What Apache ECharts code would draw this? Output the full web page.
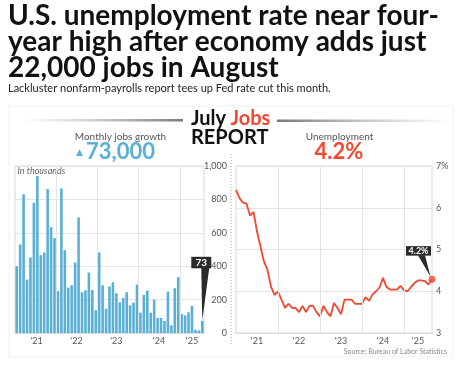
<!DOCTYPE html>
<html><head><meta charset="utf-8">
<script src="https://cdn.jsdelivr.net/npm/echarts@6/dist/echarts.min.js"></script>
<style>html,body{margin:0;padding:0;background:#fff}#c{width:457px;height:369px}</style>
</head><body><div id="c"></div>
<script>
// ---- data ----
const jobsGrowth = [400, 530, 830, 320, 452, 780, 940, 466, 482, 862, 634, 568, 252, 866, 496, 272, 286, 422, 692, 244, 256, 362, 258, 136, 482, 286, 146, 278, 304, 238, 184, 210, 244, 166, 182, 290, 122, 228, 254, 122, 200, 90, 90, 72, 248, 46, 268, 334, 114, 106, 124, 162, 20, 16, 73];
const unemployment = [6.43, 6.23, 6.12, 6.1, 5.81, 5.9, 5.43, 5.07, 4.71, 4.51, 4.11, 3.91, 3.99, 3.8, 3.6, 3.7, 3.6, 3.6, 3.5, 3.65, 3.5, 3.65, 3.65, 3.5, 3.4, 3.65, 3.5, 3.4, 3.72, 3.6, 3.45, 3.8, 3.8, 3.8, 3.7, 3.7, 3.7, 3.86, 3.77, 3.92, 4.0, 4.09, 4.32, 4.1, 4.04, 4.04, 4.04, 4.13, 4.02, 4.0, 4.1, 4.2, 4.26, 4.26, 4.24, 4.16, 4.29];
const yearLabels = ["'21", "'22", "'23", "'24", "'25"];
const jobsLabelAt = [5.8, 17.4, 29, 41.4, 51];       // bar index where each year label sits
const jobsYearStarts = [12, 24, 36, 48];             // bar index of each January
const rateLabelAt = [6, 18, 30, 42, 52];
const rateYearStarts = [12, 24, 36, 48];
const jobsTicks = [0, 200, 400, 600, 800, 1000];
const rateTicks = [3, 4, 5, 6, 7];
const headline = ["U.S. unemployment rate near four-", "year high after economy adds just", "22,000 jobs in August"];
const subhead = "Lackluster nonfarm-payrolls report tees up Fed rate cut this month.";
const jobsHeadline = "73,000";
const rateHeadline = "4.2%";
const jobsCallout = "73";
const rateCallout = "4.2%";

// ---- chart ----
const BLUE = '#5aafd5', RED = '#f4472f', GRID = '#e4e4e4', LBL = '#555';
const FONT = 'Lato, "Noto Sans", sans-serif';
const chart = echarts.init(document.getElementById('c'), null, {renderer: 'canvas'});
const lastJ = jobsGrowth.length - 1, lastU = unemployment.length - 1;

const option = {
  animation: false,
  textStyle: {fontFamily: FONT},
  title: [
    {text: headline.join('\n'), left: 8, top: 3, padding: 0,
     textStyle: {fontSize: 28, fontWeight: 'bold', lineHeight: 26, color: '#111', fontFamily: FONT}},
    {text: subhead, left: 8, top: 83, padding: 0,
     textStyle: {fontSize: 11, fontWeight: 'normal', color: '#222', fontFamily: FONT}},
    {text: '{a|July} {b|Jobs}\n{a|REPORT}', left: 191, top: 109, padding: 0,
     textStyle: {rich: {
       a: {fontSize: 20, fontWeight: 'bold', color: '#111', fontFamily: FONT, lineHeight: 19},
       b: {fontSize: 20, fontWeight: 'bold', color: RED, fontFamily: FONT, lineHeight: 19}}}}
  ],
  grid: [
    {left: 15, top: 166, width: 189, height: 167, show: true, borderColor: '#d8d8d8', borderWidth: 1, containLabel: false},
    {left: 236, top: 166, width: 196, height: 167, show: true, borderColor: '#d8d8d8', borderWidth: 1, containLabel: false}
  ],
  xAxis: [
    {type: 'value', gridIndex: 0, min: -0.5, max: jobsGrowth.length - 0.5,
     axisLine: {show: true, lineStyle: {color: '#ddd'}}, axisTick: {show: false}, splitLine: {show: false},
     axisLabel: {customValues: jobsLabelAt, margin: 4, fontSize: 9, color: LBL, fontFamily: FONT,
       formatter: v => yearLabels[jobsLabelAt.indexOf(v)] || ''}},
    {type: 'value', gridIndex: 1, min: 0, max: unemployment.length - 1,
     axisLine: {show: true, lineStyle: {color: '#ddd'}}, axisTick: {show: false}, splitLine: {show: false},
     axisLabel: {customValues: rateLabelAt, margin: 4, fontSize: 9, color: LBL, fontFamily: FONT,
       formatter: v => yearLabels[rateLabelAt.indexOf(v)] || ''}}
  ],
  yAxis: [
    {type: 'value', gridIndex: 0, position: 'right', min: jobsTicks[0], max: jobsTicks[jobsTicks.length - 1], interval: 200,
     axisLine: {show: false}, axisTick: {show: false},
     splitLine: {lineStyle: {color: GRID}},
     axisLabel: {align: 'right', margin: 23, fontSize: 9, color: LBL, fontFamily: FONT,
       formatter: v => v.toLocaleString('en-US')}},
    {type: 'value', gridIndex: 1, position: 'right', min: rateTicks[0], max: rateTicks[rateTicks.length - 1], interval: 1,
     axisLine: {show: false}, axisTick: {show: false},
     splitLine: {lineStyle: {color: GRID}},
     axisLabel: {align: 'left', margin: 4, fontSize: 9, color: LBL, fontFamily: FONT,
       formatter: v => v === rateTicks[rateTicks.length - 1] ? v + '%' : String(v)}}
  ],
  series: [
    {type: 'bar', xAxisIndex: 0, yAxisIndex: 0, barWidth: 2.6,
     data: jobsGrowth.map((v, i) => [i, v]), itemStyle: {color: BLUE}, silent: true,
     markLine: {silent: true, symbol: 'none', label: {show: false},
       lineStyle: {color: GRID, type: 'solid', width: 1},
       data: jobsYearStarts.map(i => ({xAxis: i - 0.5}))}},
    {type: 'line', xAxisIndex: 1, yAxisIndex: 1, showSymbol: false, silent: true,
     data: unemployment.map((v, i) => [i, v]), lineStyle: {color: RED, width: 1.8}, itemStyle: {color: RED},
     markLine: {silent: true, symbol: 'none', label: {show: false},
       lineStyle: {color: GRID, type: 'solid', width: 1},
       data: rateYearStarts.map(i => ({xAxis: i}))}},
    {type: 'scatter', xAxisIndex: 1, yAxisIndex: 1, symbolSize: 7, silent: true,
     data: [[lastU, unemployment[lastU]]], itemStyle: {color: RED}, z: 5}
  ]
};
chart.setOption(option);

// ---- annotations positioned from the library's scales ----
const pj = chart.convertToPixel({xAxisIndex: 0, yAxisIndex: 0}, [lastJ, jobsGrowth[lastJ]]);
const pu = chart.convertToPixel({xAxisIndex: 1, yAxisIndex: 1}, [lastU, unemployment[lastU]]);
const jbX = pj[0] - 11, jbY = pj[1] - 64, jbW = 20, jbH = 11.5;
const ubX = pu[0] - 26, ubY = pu[1] - 33, ubW = 25, ubH = 9.5;

chart.setOption({graphic: [
  {type: 'rect', shape: {x: 9, y: 106, width: 444, height: 251}, style: {fill: 'none', stroke: '#f1f1f1', lineWidth: 1}, z: -10},
  {type: 'rect', shape: {x: 22, y: 119, width: 161, height: 2.5},
   style: {fill: new echarts.graphic.LinearGradient(0, 0, 1, 0, [{offset: 0, color: 'rgba(160,160,160,0)'}, {offset: 1, color: '#7a7a7a'}])}},
  {type: 'rect', shape: {x: 277, y: 119.5, width: 175, height: 2.5},
   style: {fill: new echarts.graphic.LinearGradient(0, 0, 1, 0, [{offset: 0, color: '#7a7a7a'}, {offset: 1, color: 'rgba(160,160,160,0)'}])}},
  {type: 'line', shape: {x1: 231, y1: 154, x2: 231, y2: 345}, style: {stroke: '#aaa', lineWidth: 1, lineDash: [1, 2]}},
  {type: 'text', style: {text: 'Monthly jobs growth', x: 120.5, y: 136.5, align: 'center', verticalAlign: 'middle', font: '10px ' + FONT, fill: '#555'}},
  {type: 'text', style: {text: '▲', x: 79.5, y: 152.5, align: 'center', verticalAlign: 'middle', font: '9px "DejaVu Sans"', fill: BLUE}},
  {type: 'text', style: {text: jobsHeadline, x: 86, y: 151.5, align: 'left', verticalAlign: 'middle', font: 'bold 22px ' + FONT, fill: BLUE}},
  {type: 'text', style: {text: 'Unemployment', x: 339.5, y: 136.5, align: 'center', verticalAlign: 'middle', font: '10px ' + FONT, fill: '#555'}},
  {type: 'text', style: {text: rateHeadline, x: 339, y: 151.5, align: 'center', verticalAlign: 'middle', font: 'bold 22px ' + FONT, fill: RED}},
  {type: 'text', style: {text: 'In thousands', x: 17.5, y: 171.5, align: 'left', verticalAlign: 'middle', font: 'italic 9px ' + FONT, fill: '#666'}},
  {type: 'text', style: {text: 'Source: Bureau of Labor Statistics', x: 447, y: 352, align: 'right', verticalAlign: 'middle', font: '7px ' + FONT, fill: '#888'}},
  {type: 'polygon', shape: {points: [[pj[0] - 1, jbY + jbH - 0.5], [pj[0] + 7, jbY + jbH - 0.5], [pj[0], pj[1] - 0.5]]}, style: {fill: '#2a2a2a'}, z: 20},
  {type: 'rect', shape: {x: jbX, y: jbY, width: jbW, height: jbH}, style: {fill: '#2a2a2a'}, z: 21},
  {type: 'text', style: {text: jobsCallout, x: jbX + jbW / 2, y: jbY + jbH / 2 + 0.5, align: 'center', verticalAlign: 'middle', font: 'bold 10px ' + FONT, fill: '#fff'}, z: 22},
  {type: 'polygon', shape: {points: [[pu[0] - 14, ubY + ubH - 0.5], [pu[0] - 7, ubY + ubH - 0.5], [pu[0] - 1.5, pu[1] - 2.5]]}, style: {fill: '#2a2a2a'}, z: 20},
  {type: 'rect', shape: {x: ubX, y: ubY, width: ubW, height: ubH}, style: {fill: '#2a2a2a'}, z: 21},
  {type: 'text', style: {text: rateCallout, x: ubX + ubW / 2, y: ubY + ubH / 2 + 0.5, align: 'center', verticalAlign: 'middle', font: 'bold 9px ' + FONT, fill: '#fff'}, z: 22}
]});
</script></body></html>
